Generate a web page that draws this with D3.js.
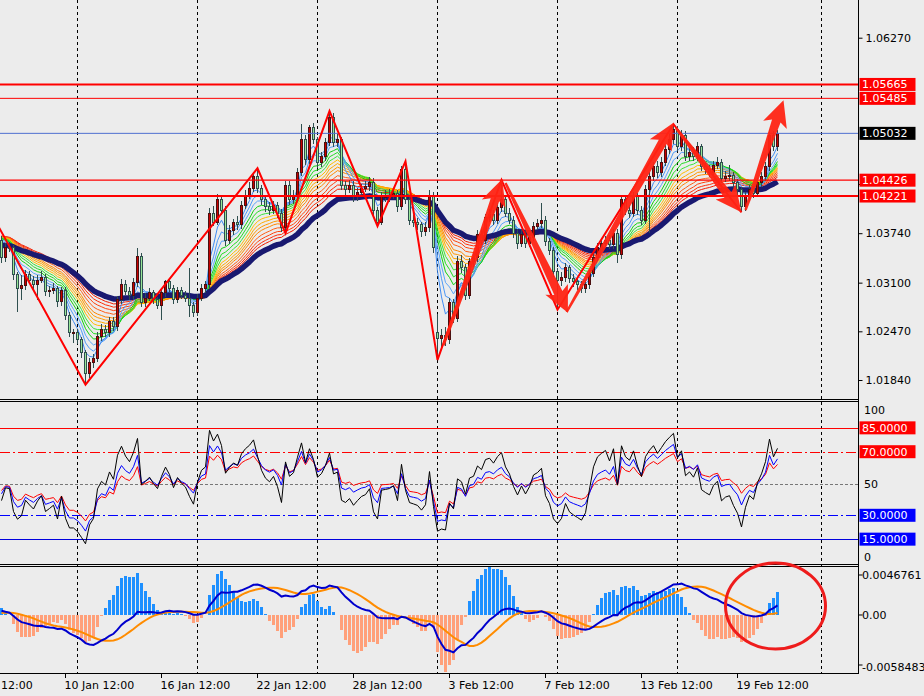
<!DOCTYPE html>
<html><head><meta charset="utf-8">
<script src="https://cdn.jsdelivr.net/npm/d3@7"></script>
<style>
html,body{margin:0;padding:0;background:#ececec;}
svg{display:block;}
</style></head><body>
<svg id="c" width="924" height="696"></svg>
<script>
// ---------- DATA (EURUSD H4) ----------
const open = [
1.0365,1.0342,1.0356,1.0355,1.0320,1.0303,1.0306,1.0320,1.0313,1.0307,
1.0313,1.0317,1.0298,1.0300,1.0302,1.0285,1.0300,1.0268,1.0245,1.0245,
1.0236,1.0219,1.0193,1.0207,1.0212,1.0240,1.0249,1.0245,1.0260,1.0253,
1.0288,1.0308,1.0299,1.0294,1.0310,1.0344,1.0284,1.0290,1.0297,1.0288,
1.0281,1.0297,1.0311,1.0303,1.0288,1.0300,1.0294,1.0290,1.0280,1.0271,
1.0290,1.0303,1.0307,1.0400,1.0388,1.0417,1.0404,1.0365,1.0378,1.0388,
1.0385,1.0410,1.0423,1.0432,1.0447,1.0432,1.0417,1.0408,1.0404,1.0410,
1.0400,1.0381,1.0436,1.0417,1.0423,1.0453,1.0495,1.0469,1.0511,1.0495,
1.0465,1.0473,1.0491,1.0524,1.0491,1.0495,1.0436,1.0430,1.0436,1.0421,
1.0427,1.0432,1.0434,1.0440,1.0404,1.0388,1.0421,1.0422,1.0423,1.0426,
1.0408,1.0456,1.0417,1.0391,1.0388,1.0385,1.0376,1.0381,1.0423,1.0245,
1.0238,1.0242,1.0236,1.0284,1.0264,1.0337,1.0329,1.0294,1.0337,1.0342,
1.0372,1.0365,1.0394,1.0398,1.0391,1.0407,1.0417,1.0400,1.0391,1.0374,
1.0361,1.0372,1.0361,1.0369,1.0383,1.0386,1.0391,1.0363,1.0352,1.0324,
1.0313,1.0317,1.0329,1.0316,1.0311,1.0307,1.0303,1.0307,1.0322,1.0343,
1.0356,1.0361,1.0365,1.0359,1.0374,1.0346,1.0417,1.0404,1.0400,1.0421,
1.0404,1.0391,1.0430,1.0447,1.0460,1.0452,1.0466,1.0482,1.0495,1.0508,
1.0486,1.0501,1.0473,1.0479,1.0473,1.0486,1.0460,1.0456,1.0453,1.0462,
1.0466,1.0445,1.0448,1.0449,1.0439,1.0430,1.0408,1.0421,1.0430,1.0426,
1.0439,1.0447,1.0460,1.0501,1.0486];
const high = [
1.0370,1.0361,1.0362,1.0359,1.0324,1.0320,1.0326,1.0325,1.0318,1.0320,
1.0325,1.0321,1.0306,1.0309,1.0306,1.0305,1.0304,1.0272,1.0250,1.0250,
1.0240,1.0223,1.0212,1.0218,1.0246,1.0256,1.0255,1.0266,1.0265,1.0293,
1.0315,1.0313,1.0305,1.0316,1.0355,1.0348,1.0297,1.0303,1.0301,1.0292,
1.0302,1.0313,1.0316,1.0307,1.0305,1.0304,1.0299,1.0329,1.0285,1.0295,
1.0308,1.0312,1.0406,1.0409,1.0425,1.0424,1.0409,1.0384,1.0393,1.0396,
1.0416,1.0430,1.0440,1.0453,1.0458,1.0437,1.0422,1.0414,1.0416,1.0415,
1.0405,1.0441,1.0442,1.0430,1.0458,1.0515,1.0501,1.0514,1.0517,1.0499,
1.0479,1.0497,1.0532,1.0529,1.0502,1.0499,1.0442,1.0443,1.0441,1.0433,
1.0438,1.0441,1.0447,1.0445,1.0408,1.0427,1.0430,1.0431,1.0433,1.0430,
1.0461,1.0467,1.0421,1.0398,1.0394,1.0389,1.0388,1.0430,1.0427,1.0270,
1.0250,1.0252,1.0290,1.0289,1.0345,1.0346,1.0334,1.0342,1.0350,1.0378,
1.0380,1.0399,1.0405,1.0404,1.0413,1.0443,1.0422,1.0406,1.0396,1.0379,
1.0378,1.0377,1.0375,1.0389,1.0393,1.0413,1.0396,1.0368,1.0356,1.0329,
1.0324,1.0335,1.0333,1.0321,1.0315,1.0312,1.0313,1.0327,1.0349,1.0361,
1.0368,1.0371,1.0372,1.0380,1.0379,1.0424,1.0423,1.0410,1.0427,1.0426,
1.0409,1.0436,1.0453,1.0466,1.0467,1.0472,1.0488,1.0502,1.0515,1.0513,
1.0507,1.0506,1.0486,1.0485,1.0492,1.0490,1.0466,1.0462,1.0468,1.0472,
1.0470,1.0454,1.0462,1.0453,1.0444,1.0434,1.0427,1.0436,1.0435,1.0445,
1.0453,1.0466,1.0507,1.0506,1.0507];
const low = [
1.0336,1.0337,1.0350,1.0314,1.0272,1.0288,1.0301,1.0308,1.0302,1.0288,
1.0309,1.0293,1.0292,1.0295,1.0279,1.0280,1.0262,1.0240,1.0232,1.0230,
1.0213,1.0178,1.0187,1.0200,1.0207,1.0234,1.0240,1.0240,1.0247,1.0248,
1.0283,1.0294,1.0288,1.0289,1.0305,1.0278,1.0279,1.0286,1.0283,1.0276,
1.0262,1.0292,1.0298,1.0283,1.0284,1.0289,1.0285,1.0266,1.0266,1.0267,
1.0286,1.0297,1.0303,1.0383,1.0384,1.0398,1.0358,1.0360,1.0372,1.0378,
1.0380,1.0405,1.0418,1.0427,1.0426,1.0411,1.0402,1.0398,1.0399,1.0394,
1.0376,1.0374,1.0411,1.0412,1.0418,1.0448,1.0462,1.0463,1.0489,1.0459,
1.0460,1.0468,1.0487,1.0485,1.0486,1.0430,1.0424,1.0426,1.0415,1.0416,
1.0422,1.0427,1.0428,1.0398,1.0383,1.0384,1.0414,1.0415,1.0418,1.0402,
1.0404,1.0412,1.0385,1.0382,1.0378,1.0369,1.0370,1.0375,1.0349,1.0210,
1.0226,1.0228,1.0231,1.0258,1.0259,1.0322,1.0287,1.0289,1.0330,1.0337,
1.0359,1.0360,1.0388,1.0385,1.0386,1.0402,1.0395,1.0386,1.0368,1.0354,
1.0356,1.0355,1.0356,1.0364,1.0378,1.0381,1.0357,1.0346,1.0317,1.0275,
1.0306,1.0311,1.0310,1.0305,1.0300,1.0296,1.0297,1.0302,1.0317,1.0338,
1.0350,1.0355,1.0353,1.0354,1.0335,1.0341,1.0398,1.0394,1.0395,1.0398,
1.0385,1.0386,1.0374,1.0442,1.0446,1.0447,1.0461,1.0477,1.0490,1.0480,
1.0481,1.0467,1.0468,1.0467,1.0468,1.0454,1.0450,1.0447,1.0448,1.0457,
1.0439,1.0440,1.0442,1.0433,1.0424,1.0401,1.0403,1.0416,1.0420,1.0421,
1.0434,1.0442,1.0455,1.0480,1.0481];
const close = [
1.0342,1.0356,1.0355,1.0320,1.0303,1.0306,1.0320,1.0313,1.0307,1.0313,
1.0317,1.0298,1.0300,1.0302,1.0285,1.0300,1.0268,1.0245,1.0245,1.0236,
1.0219,1.0193,1.0207,1.0212,1.0240,1.0249,1.0245,1.0260,1.0253,1.0288,
1.0308,1.0299,1.0294,1.0310,1.0344,1.0284,1.0290,1.0297,1.0288,1.0281,
1.0297,1.0311,1.0303,1.0288,1.0300,1.0294,1.0290,1.0280,1.0271,1.0290,
1.0303,1.0307,1.0400,1.0388,1.0417,1.0404,1.0365,1.0378,1.0388,1.0385,
1.0410,1.0423,1.0432,1.0447,1.0432,1.0417,1.0408,1.0404,1.0410,1.0400,
1.0381,1.0436,1.0417,1.0423,1.0453,1.0495,1.0469,1.0511,1.0495,1.0465,
1.0473,1.0491,1.0524,1.0491,1.0495,1.0436,1.0430,1.0436,1.0421,1.0427,
1.0432,1.0434,1.0440,1.0404,1.0388,1.0421,1.0422,1.0423,1.0426,1.0408,
1.0456,1.0417,1.0391,1.0388,1.0385,1.0376,1.0381,1.0423,1.0355,1.0238,
1.0242,1.0236,1.0284,1.0264,1.0337,1.0329,1.0294,1.0337,1.0342,1.0372,
1.0365,1.0394,1.0398,1.0391,1.0407,1.0417,1.0400,1.0391,1.0374,1.0361,
1.0372,1.0361,1.0369,1.0383,1.0386,1.0391,1.0363,1.0352,1.0324,1.0313,
1.0317,1.0329,1.0316,1.0311,1.0307,1.0303,1.0307,1.0322,1.0343,1.0356,
1.0361,1.0365,1.0359,1.0374,1.0346,1.0417,1.0404,1.0400,1.0421,1.0404,
1.0391,1.0430,1.0447,1.0460,1.0452,1.0466,1.0482,1.0495,1.0508,1.0486,
1.0501,1.0473,1.0479,1.0473,1.0486,1.0460,1.0456,1.0453,1.0462,1.0466,
1.0445,1.0448,1.0449,1.0439,1.0430,1.0408,1.0421,1.0430,1.0426,1.0439,
1.0447,1.0460,1.0501,1.0486,1.05032];

const dateLabels   = ["6 Jan 12:00","10 Jan 12:00","16 Jan 12:00","22 Jan 12:00","28 Jan 12:00","3 Feb 12:00","7 Feb 12:00","13 Feb 12:00","19 Feb 12:00"];
const dateLabelBar = [-8,16,40,64,88,112,136,160,184];
const gridBars     = [19,49,79,109,139,169,205];

const priceTicks   = [1.06270,1.03740,1.03100,1.02470,1.01840];
const hiddenTicks  = [1.04370];
const redLevels    = [1.05665,1.05485,1.04426,1.04221];
const bidPrice     = 1.05032;

const rsiTicks     = [100,50,0];
const rsiLevels    = [85,70,50,30,15];
const macdTicks    = [0.0046761,0,-0.0058483];
const macdTickText = ["0.0046761","0.00","-0.0058483"];

// zigzag swing points (bar index, price)
const zzBar   = [-1,21,64,71,82,94,101,109,125,139,168,185];
const zzPrice = [1.0385,1.0178,1.0458,1.0374,1.0532,1.0383,1.0467,1.0210,1.0443,1.0275,1.0515,1.0401];

// hand-drawn arrows: [barFrom, priceFrom, barTo, priceTo]
const arrowsData = [
 [110.5,1.0229,125.2,1.0444],
 [126.0,1.0439,141.6,1.0271],
 [141.3,1.0272,168.0,1.0517],
 [168.6,1.0510,185.0,1.0401],
 [186.0,1.0404,195.5,1.0546]];

// circle annotation in MACD window: centre bar, centre value, radius in bars, radius in value
const circleBar = 193.5, circleVal = 0.00105, circleRBars = 12.5, circleRVal = 0.00503;

// indicator settings and values at the left edge of the picture
const ribbonPeriods = [4,6,8,10,12,14,16,18,20,22,25,28,31,34];
const ribbonStart = 1.0372;
const slowPeriod = 42, slowStart = 1.0359;
const rsiPeriods = [7,12,18];
const rsiStartMove = 0.0007;
const macdFast = 12, macdSlow = 26, macdSignal = 9, histScale = 3.0;
const macdFastStart = 1.0372, macdSlowStart = 1.0364, macdSignalStart = 0.0002;

// ---------- indicators ----------
function ema(src, n, seed){ const k = 2/(n+1); let e = seed; return src.map(v => (e = e + k*(v-e))); }
function rsi(n){
  let ag = rsiStartMove, al = rsiStartMove;
  return close.map((c,i) => {
    const ch = c - (i ? close[i-1] : open[0]);
    ag = (ag*(n-1) + Math.max(ch,0))/n;
    al = (al*(n-1) + Math.max(-ch,0))/n;
    return 100*ag/(ag+al);
  });
}
const ribbons = ribbonPeriods.map(p => ema(close, p, ribbonStart));
const slowMA = ema(close, slowPeriod, slowStart);
const rsis = rsiPeriods.map(rsi);
const eF = ema(close, macdFast, macdFastStart), eS = ema(close, macdSlow, macdSlowStart);
const macdMain = eF.map((v,i) => v - eS[i]);
const macdSig = macdMain.map((v,i) => {
  let s = 0; for (let k=i-macdSignal+1;k<=i;k++) s += (k>=0 ? macdMain[k] : macdSignalStart);
  return s/macdSignal;
});
const macdHist = macdMain.map((v,i) => histScale*(v - macdSig[i]));

// ---------- layout ----------
const svg = d3.select('#c').attr('font-family','"DejaVu Sans", sans-serif').attr('font-size',11);
const PR = 858.5;
const x  = d3.scaleLinear().domain([0,194]).range([1.5, 777.5]);
const yP = d3.scaleLinear().domain([1.0184,1.0627]).range([380,37.7]);
const yR = d3.scaleLinear().domain([0,100]).range([563,404]);
const yM = d3.scaleLinear().domain([-0.0058483,0.0046761]).range([665,575]);

svg.append('rect').attr('width',924).attr('height',696).attr('fill','#ececec');
const defs = svg.append('defs');
[['cMain',0,0,858,399.5],['cRsi',0,402,858,162],['cMacd',0,567,858,106.5]].forEach(c=>{
  defs.append('clipPath').attr('id',c[0]).append('rect').attr('x',c[1]).attr('y',c[2]).attr('width',c[3]).attr('height',c[4]);
});

// grid
svg.append('g').selectAll('line').data(gridBars).join('line')
  .attr('x1',d=>x(d)).attr('x2',d=>x(d)).attr('y1',0).attr('y2',674)
  .attr('stroke','#000').attr('stroke-dasharray','3,3').attr('shape-rendering','crispEdges');

// ---------- main window ----------
const gM = svg.append('g').attr('clip-path','url(#cMain)');
const ribbonColors = ['#3f8cf2','#4c98f6','#5aa4f8','#10d010','#22dc22','#3ae43a',
  '#ffbe00','#ffaa00','#ff9800','#ff8600','#ff5e14','#ff420c','#ff2c06','#f01a00'];
const lineP = d3.line().x((d,i)=>x(i)).y(d=>yP(d));
ribbons.slice().reverse().forEach((r,k)=>{
  const idx = ribbons.length-1-k;
  gM.append('path').attr('d',lineP(r)).attr('fill','none').attr('stroke',ribbonColors[idx]).attr('stroke-width',1);
});
gM.append('path').attr('d',lineP(slowMA)).attr('fill','none').attr('stroke','#191970').attr('stroke-width',5.5).attr('stroke-linejoin','round');

// candles
const bars = d3.range(close.length);
gM.append('g').selectAll('line').data(bars).join('line')
  .attr('x1',i=>x(i)).attr('x2',i=>x(i)).attr('y1',i=>yP(high[i])).attr('y2',i=>yP(low[i]))
  .attr('stroke','#2f4f4f').attr('stroke-width',1).attr('shape-rendering','crispEdges');
gM.append('g').selectAll('rect').data(bars).join('rect')
  .attr('x',i=>x(i)-1).attr('width',2)
  .attr('y',i=>yP(Math.max(open[i],close[i])))
  .attr('height',i=>Math.max(1,Math.abs(yP(open[i])-yP(close[i]))))
  .attr('fill',i=>close[i]>=open[i] ? '#c80000' : '#98e698')
  .attr('stroke',i=>close[i]>=open[i] ? '#4a1010' : '#2f4f4f').attr('stroke-width',1)
  .attr('shape-rendering','crispEdges');

// horizontal levels
const levelW = [2,1,1.3,2];
redLevels.forEach((v,k)=>{
  gM.append('line').attr('x1',0).attr('x2',858).attr('y1',yP(v)).attr('y2',yP(v))
    .attr('stroke','#ff0000').attr('stroke-width',levelW[k]);
});
gM.append('line').attr('x1',0).attr('x2',858).attr('y1',yP(bidPrice)).attr('y2',yP(bidPrice))
  .attr('stroke','#4f6fd0').attr('stroke-width',1);

// zigzag
gM.append('path').attr('d',d3.line()(zzBar.map((b,k)=>[x(b),yP(zzPrice[k])])))
  .attr('fill','none').attr('stroke','#ff0000').attr('stroke-width',2);

// arrows
function arrowPath(x0,y0,x1,y1){
  const dx=x1-x0, dy=y1-y0, L=Math.hypot(dx,dy), ux=dx/L, uy=dy/L, nx=-uy, ny=ux;
  const hl=22, hw=12.5, s0=1.2, s1=4.5, back=4;
  const bx=x1-ux*hl, by=y1-uy*hl;
  const pts=[[x0+nx*s0,y0+ny*s0],[bx+nx*s1,by+ny*s1],[bx+nx*hw-ux*back,by+ny*hw-uy*back],[x1,y1],
             [bx-nx*hw-ux*back,by-ny*hw-uy*back],[bx-nx*s1,by-ny*s1],[x0-nx*s0,y0-ny*s0]];
  return d3.line()(pts)+'Z';
}
gM.append('g').selectAll('path').data(arrowsData).join('path')
  .attr('d',a=>arrowPath(x(a[0]),yP(a[1]),x(a[2]),yP(a[3])))
  .attr('fill','#ff2414').attr('fill-opacity',0.95);

// ---------- RSI window ----------
const gR = svg.append('g').attr('clip-path','url(#cRsi)');
const rsiLvlStyle = {85:['#ff0000',null],70:['#ff0000','10,3,2,3'],50:['#777777','3,2'],30:['#0000ff','10,3,2,3'],15:['#0000dd',null]};
rsiLevels.forEach(v=>{
  gR.append('line').attr('x1',0).attr('x2',858).attr('y1',Math.round(yR(v))+0.5).attr('y2',Math.round(yR(v))+0.5)
    .attr('stroke',rsiLvlStyle[v][0]).attr('stroke-dasharray',rsiLvlStyle[v][1]);
});
const lineR = d3.line().x((d,i)=>x(i)).y(d=>yR(d));
const rsiColors = ['#000000','#0000ff','#ff0000'];
[2,1,0].forEach(k=>{
  gR.append('path').attr('d',lineR(rsis[k])).attr('fill','none').attr('stroke',rsiColors[k]).attr('stroke-width',1);
});

// ---------- MACD window ----------
const gC = svg.append('g').attr('clip-path','url(#cMacd)');
gC.append('g').selectAll('rect').data(bars).join('rect')
  .attr('x',i=>x(i)-1.5).attr('width',3)
  .attr('y',i=>yM(Math.max(0,macdHist[i]))).attr('height',i=>Math.abs(yM(macdHist[i])-yM(0)))
  .attr('fill',i=>macdHist[i]>=0 ? '#1e90ff' : '#ffa07a').attr('shape-rendering','crispEdges');
const lineM = d3.line().x((d,i)=>x(i)).y(d=>yM(d));
gC.append('path').attr('d',lineM(macdSig)).attr('fill','none').attr('stroke','#ff8c00').attr('stroke-width',2);
gC.append('path').attr('d',lineM(macdMain)).attr('fill','none').attr('stroke','#0000cd').attr('stroke-width',2);

// ---------- frames ----------
const fr = svg.append('g').attr('stroke','#000').attr('stroke-width',1).attr('shape-rendering','crispEdges');
[[0,PR,399.5,399.5],[0,PR,401.5,401.5],[0,PR,564.5,564.5],[0,PR,566.5,566.5],[0,PR,673.5,673.5],[PR,PR,0,674]]
 .forEach(l=>fr.append('line').attr('x1',l[0]).attr('x2',l[1]).attr('y1',l[2]).attr('y2',l[3]));

// ---------- price axis ----------
const gA = svg.append('g').attr('transform',`translate(${PR},0)`)
  .call(d3.axisRight(yP).tickValues(priceTicks).tickSize(4).tickPadding(3).tickFormat(d3.format('.5f')));
gA.attr('font-family','"DejaVu Sans", sans-serif').attr('font-size',11);
gA.select('.domain').remove();
gA.selectAll('text').attr('fill','#000');
gA.selectAll('line').attr('stroke','#000');
hiddenTicks.forEach(v=>svg.append('line').attr('x1',PR).attr('x2',PR+4).attr('y1',yP(v)).attr('y2',yP(v)).attr('stroke','#000'));

function tag(y, txt, fill){
  svg.append('rect').attr('x',859.5).attr('y',y-6.5).attr('width',56).attr('height',13).attr('fill',fill);
  svg.append('text').attr('x',862).attr('y',y+4).attr('fill','#fff').text(txt);
}
redLevels.forEach(v=>tag(yP(v), d3.format('.5f')(v), '#ff0000'));
tag(yP(bidPrice), d3.format('.5f')(bidPrice), '#000000');

// ---------- RSI axis ----------
rsiTicks.forEach(v=>{
  const yy = v===100 ? yR(v)+6 : (v===0 ? yR(v)-6.5 : yR(v));
  svg.append('text').attr('x',864).attr('y',yy+4).attr('fill','#000').text(v);
});
[85,70].forEach(v=>tag(yR(v), d3.format('.4f')(v), '#ff0000'));
[30,15].forEach(v=>tag(yR(v), d3.format('.4f')(v), '#0000ff'));

// ---------- MACD axis ----------
macdTicks.forEach((v,k)=>{
  const yy = k===2 ? yM(v)+1.5 : yM(v);
  svg.append('line').attr('x1',PR).attr('x2',PR+4).attr('y1',yM(v)).attr('y2',yM(v)).attr('stroke','#000');
  svg.append('text').attr('x',862).attr('y',yy+4).attr('fill','#000').text(macdTickText[k]);
});

// ---------- time axis ----------
const gT = svg.append('g');
dateLabelBar.forEach((b,k)=>{
  const tx = x(b)-1;
  if (tx >= 0) {
    gT.append('line').attr('x1',x(b)).attr('x2',x(b)).attr('y1',674).attr('y2',678).attr('stroke','#000').attr('shape-rendering','crispEdges');
    gT.append('text').attr('x',tx).attr('y',689).attr('fill','#000').text(dateLabels[k]);
  } else {
    // label starting left of the window: show only the part that is visible
    const parts = dateLabels[k].split(' ');
    const tail = parts[parts.length-1];
    const probe = gT.append('text').attr('x',0).attr('y',-50).text(dateLabels[k].slice(0, dateLabels[k].length - tail.length));
    const w = probe.node().getComputedTextLength(); probe.remove();
    gT.append('text').attr('x',Math.max(1, tx + w)).attr('y',689).attr('fill','#000').text(tail);
  }
});

// ---------- circle annotation ----------
svg.append('ellipse').attr('cx',x(circleBar)).attr('cy',yM(circleVal))
  .attr('rx',x(circleBar+circleRBars)-x(circleBar)).attr('ry',yM(circleVal)-yM(circleVal+circleRVal))
  .attr('fill','none').attr('stroke','#ee1c1c').attr('stroke-width',3);
</script>
</body></html>
